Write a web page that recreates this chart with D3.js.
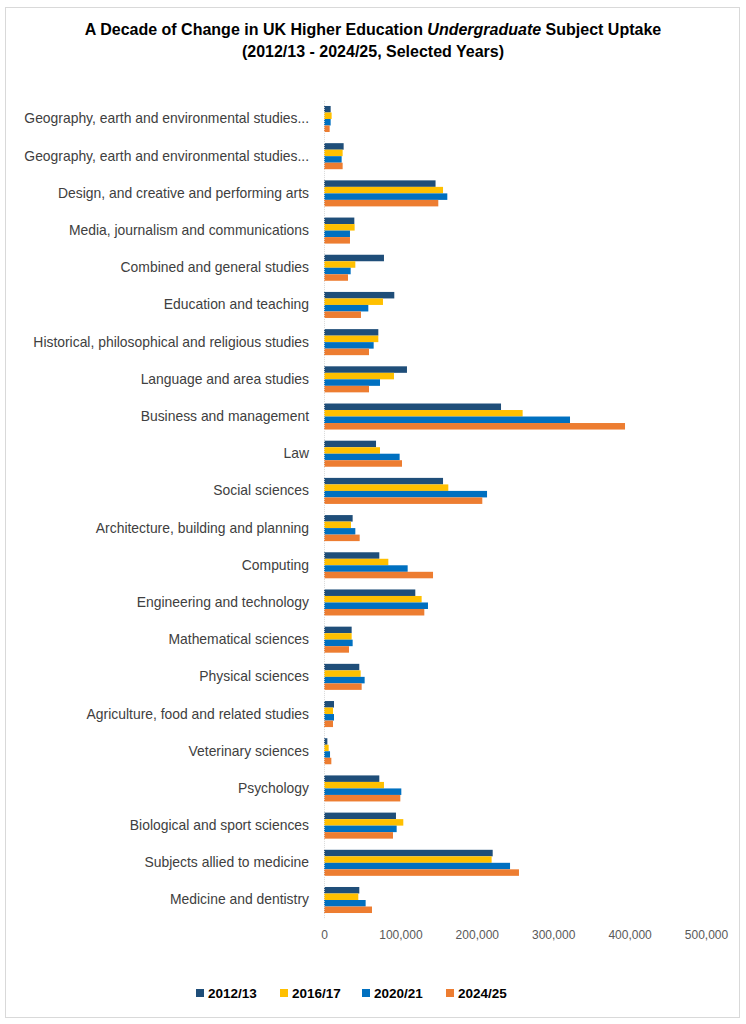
<!DOCTYPE html>
<html>
<head>
<meta charset="utf-8">
<script src="https://cdn.jsdelivr.net/npm/d3@7"></script>
<style>
  body { margin: 0; background: #fff; }
  svg { font-family: "Liberation Sans", Arial, sans-serif; }
</style>
</head>
<body>
<main></main>
<script>
(function(){

  const w = 746,
    h = 1024;

  // DATA
  const subjects = [
    "Geography, earth and environmental studies...",
    "Geography, earth and environmental studies...",
    "Design, and creative and performing arts",
    "Media, journalism and communications",
    "Combined and general studies",
    "Education and teaching",
    "Historical, philosophical and religious studies",
    "Language and area studies",
    "Business and management",
    "Law",
    "Social sciences",
    "Architecture, building and planning",
    "Computing",
    "Engineering and technology",
    "Mathematical sciences",
    "Physical sciences",
    "Agriculture, food and related studies",
    "Veterinary sciences",
    "Psychology",
    "Biological and sport sciences",
    "Subjects allied to medicine",
    "Medicine and dentistry"
  ];
  const years = ["2012/13", "2016/17", "2020/21", "2024/25"];
  const colors = ["#1F4E79", "#FFC000", "#0070C0", "#ED7D31"];

  const v2012 = [8700, 25700, 146000, 39700, 78500, 92000, 71100, 108600, 231700, 68100, 155800, 37500, 72400, 119500, 36200, 46200, 13100, 4400, 72400, 94200, 220800, 46200];
  const v2016 = [10000, 24400, 155800, 40100, 41000, 77200, 71100, 91600, 260000, 73300, 162700, 35300, 84200, 127800, 36200, 48000, 11800, 6100, 78500, 103800, 219400, 44900];
  const v2020 = [8700, 23100, 161400, 34000, 34900, 58000, 65000, 73300, 322000, 99000, 213400, 41000, 109500, 136100, 37500, 53200, 13100, 7900, 101200, 95100, 243500, 54500];
  const v2024 = [7400, 24400, 149600, 34000, 31400, 48400, 58900, 58900, 394000, 102100, 207200, 46700, 142700, 131300, 32700, 49300, 11800, 9600, 99900, 90300, 255200, 62800];
  const series = [v2012, v2016, v2020, v2024];
  const xTicks = [0, 100000, 200000, 300000, 400000, 500000];

  const rows = subjects.map((s, i) => ({ i: i, name: s, values: series.map((v, k) => ({ k: k, value: v[i] })) }));

  // SVG
  const svg = d3.select("main")
    .append("svg")
    .attr("width", w)
    .attr("height", h);

  svg.append("rect")
    .attr("x", 5.5).attr("y", 7.5)
    .attr("width", 734).attr("height", 1010)
    .attr("fill", "#fff")
    .attr("stroke", "#d9d9d9");

  // TITLE
  const title = svg.append("text")
    .attr("x", 373).attr("y", 35)
    .attr("text-anchor", "middle")
    .attr("font-size", 16)
    .attr("font-weight", "bold")
    .attr("fill", "#000");
  title.append("tspan").text("A Decade of Change in UK Higher Education ");
  title.append("tspan").attr("font-style", "italic").text("Undergraduate");
  title.append("tspan").text(" Subject Uptake");
  svg.append("text")
    .attr("x", 373).attr("y", 57)
    .attr("text-anchor", "middle")
    .attr("font-size", 16)
    .attr("font-weight", "bold")
    .text("(2012/13 - 2024/25, Selected Years)");

  // SCALES
  const xScale = d3.scaleLinear()
    .domain([0, 500000])
    .range([324, 706]);

  const yScale = d3.scaleBand()
    .domain(d3.range(subjects.length))
    .range([100.4, 918.6])
    .paddingInner(0.3)
    .paddingOuter(0.15);

  const ySub = d3.scaleBand()
    .domain(d3.range(years.length))
    .range([0, yScale.bandwidth()]);

  // BARS
  const groups = svg.append("g")
    .selectAll("g")
    .data(rows)
    .join("g")
    .attr("transform", d => "translate(0," + yScale(d.i) + ")");

  groups.selectAll("rect")
    .data(d => d.values)
    .join("rect")
    .attr("x", xScale(0))
    .attr("y", d => ySub(d.k))
    .attr("width", d => xScale(d.value) - xScale(0))
    .attr("height", ySub.bandwidth())
    .attr("fill", d => colors[d.k]);

  // Y AXIS
  const yAxis = d3.axisLeft(yScale)
    .tickSize(0)
    .tickPadding(15)
    .tickFormat(i => subjects[i]);

  const yG = svg.append("g")
    .attr("transform", "translate(" + xScale(0) + ",0)")
    .call(yAxis);
  yG.select(".domain")
    .attr("stroke", "#d9d9d9")
    .attr("stroke-dasharray", "1,1");
  yG.selectAll("text")
    .attr("font-size", 13.9)
    .attr("fill", "#404040")
    .attr("font-family", null);

  // X AXIS
  const xAxis = d3.axisBottom(xScale)
    .tickValues(xTicks)
    .tickSize(0)
    .tickPadding(0)
    .tickFormat(d3.format(","));

  const xG = svg.append("g")
    .attr("transform", "translate(0,930)")
    .call(xAxis);
  xG.select(".domain").remove();
  xG.selectAll("text")
    .attr("font-size", 12)
    .attr("fill", "#595959")
    .attr("font-family", null);

  // LEGEND
  const legendX = [196, 280, 362, 446];
  const legend = svg.append("g")
    .selectAll("g")
    .data(years)
    .join("g")
    .attr("transform", (d, i) => "translate(" + legendX[i] + ",989)");

  legend.append("rect")
    .attr("width", 8).attr("height", 8)
    .attr("fill", (d, i) => colors[i]);

  legend.append("text")
    .attr("x", 12).attr("y", 8.5)
    .attr("font-size", 13.5)
    .attr("font-weight", "bold")
    .attr("fill", "#000")
    .text(d => d);

})()
</script>
</body>
</html>
